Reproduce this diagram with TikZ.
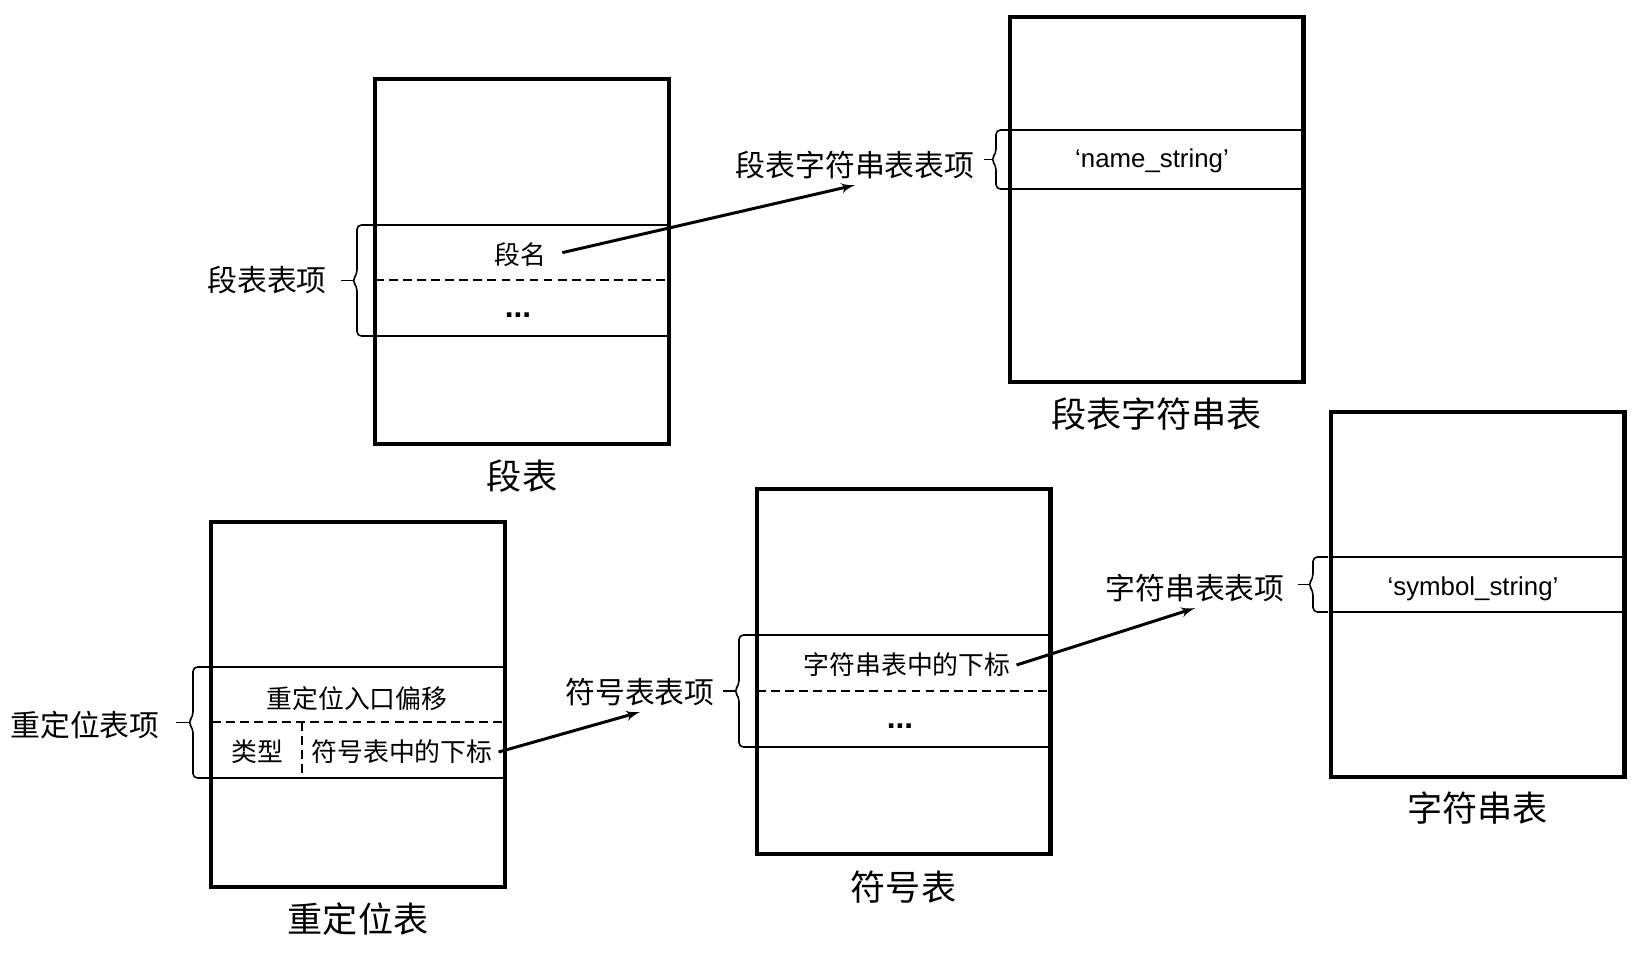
\documentclass[tikz,border=0pt]{standalone}
\usepackage{fontspec}
\setmainfont{Liberation Sans}
\newfontfamily\cjk{Noto Sans CJK SC}
\usepackage{tikz}
\usetikzlibrary{positioning}
\usetikzlibrary{arrows}
\tikzstyle{pointer} = [draw, -latex', line width=1.7pt]
\tikzstyle{bracket} = [line width=0.9pt, rounded corners=2.5pt]

% brace left of a table entry: box edge x, top y, bottom y, depth
\newcommand{\entrybrace}[4]{%
	\pgfmathsetmacro{\bmid}{(#2+#3)/2}
	\draw[bracket] (#1,#2) -- (#1-#4,#2) -- (#1-#4,\bmid-6) -- (#1-#4-5,\bmid)
		-- (#1-#4,\bmid+6) -- (#1-#4,#3) -- (#1,#3);
	\draw[line width=0.9pt] (#1-#4-4,\bmid) -- (#1-2*#4,\bmid);}

\begin{document}
\begin{tikzpicture}[x=0.02cm, y=-0.02cm,
				tablebox/.style = {draw, line width=2.3pt,
					minimum width=5.88cm, minimum height=7.3cm},
				rowline/.style = {line width=1.1pt},
				sepline/.style = {line width=1.1pt, dash pattern=on 5pt off 3pt},
				cell/.style = {font=\cjk\fontsize{14.7}{17}\selectfont},
				strcell/.style = {font=\fontsize{14.7}{17}\selectfont},
				dots/.style = {font=\bfseries\fontsize{18}{20}\selectfont},
				entlabel/.style = {font=\cjk\fontsize{17}{20}\selectfont},
				caption/.style = {font=\cjk\fontsize{20}{24}\selectfont, inner sep=0pt}]
				
				\useasboundingbox (0,0) rectangle (1639,954);
				
				% Segment table
				\node[tablebox] (seg) at (522,261.5) {};
				\draw[rowline] (375,225) -- (669,225);
				\draw[sepline] (375,280) -- (669,280);
				\draw[rowline] (375,336) -- (669,336);
				\node[cell] (segname) at (520,255) {段名};
				\node[dots] (segmore) at (518,315) {...};
				\entrybrace{373}{225}{336}{16}
				\node[entlabel] (segentry) at (267,280) {段表表项};
				\node[caption, below=0.26cm of seg] (segcap) {段表};
				
				% Segment string table
				\node[tablebox] (segstr) at (1156.5,199.5) {};
				\draw[rowline] (1010,130) -- (1303,130);
				\draw[rowline] (1010,189) -- (1303,189);
				\node[strcell] (namestr) at (1152,161) {‘name\_string’};
				\entrybrace{1008}{130}{189}{12}
				\node[entlabel] (segstrentry) at (855,165) {段表字符串表表项};
				\node[caption, below=0.26cm of segstr] (segstrcap) {段表字符串表};
				
				% Relocation table
				\node[tablebox] (rel) at (358,704.5) {};
				\draw[rowline] (212,667) -- (504,667);
				\draw[sepline] (212,722) -- (504,722);
				\draw[rowline] (212,778) -- (504,778);
				\draw[sepline] (302,722) -- (302,778);
				\node[cell] (reloff) at (357,699) {重定位入口偏移};
				\node[cell] (reltype) at (257,752) {类型};
				\node[cell] (relidx) at (402,752) {符号表中的下标};
				\entrybrace{210}{667}{778}{17}
				\node[entlabel] (relentry) at (85,725) {重定位表项};
				\node[caption, below=0.26cm of rel] (relcap) {重定位表};
				
				% Symbol table
				\node[tablebox] (sym) at (903.5,671.5) {};
				\draw[rowline] (757,635) -- (1050,635);
				\draw[sepline] (757,691) -- (1050,691);
				\draw[rowline] (757,747) -- (1050,747);
				\node[cell] (symidx) at (907,665) {字符串表中的下标};
				\node[dots] (symmore) at (900,726) {...};
				\entrybrace{755}{635}{747}{16}
				\node[entlabel] (symentry) at (640,692) {符号表表项};
				\node[caption, below=0.3cm of sym] (symcap) {符号表};
				
				% String table
				\node[tablebox] (strtab) at (1477.5,594.5) {};
				\draw[rowline] (1330,557) -- (1625,557);
				\draw[rowline] (1330,612) -- (1625,612);
				\node[strcell] (symstr) at (1473,589) {‘symbol\_string’};
				\entrybrace{1328}{557}{612}{15}
				\node[entlabel] (strentry) at (1195,588) {字符串表表项};
				\node[caption, below=0.25cm of strtab] (strcap) {字符串表};
				
				% Pointers
				\draw[pointer, shorten <=6pt] (segname.east) -- (segstrentry.south);
				\draw[pointer] (relidx.east) -- (symentry.south);
				\draw[pointer] (symidx.east) -- (strentry.south);
				
		\end{tikzpicture}
\end{document}
